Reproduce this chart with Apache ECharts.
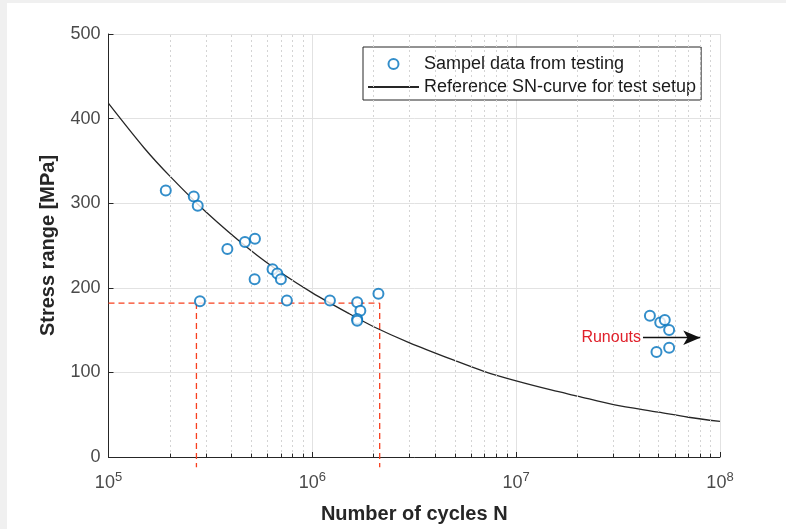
<!DOCTYPE html>
<html>
<head>
<meta charset="utf-8">
<script src="https://cdn.jsdelivr.net/npm/echarts@6/dist/echarts.min.js"></script>
<style>
  html, body { margin: 0; padding: 0; background: #f0f0f0; }
  #paper { position: absolute; left: 7px; top: 3px; width: 779px; height: 526px; background: #ffffff; }
  #chart { position: absolute; left: 0; top: 0; width: 786px; height: 529px; }
</style>
</head>
<body>
<div id="paper"></div>
<div id="chart"></div>
<script>
// Fatigue test results: cycles to failure and stress range
const testCycles = [1.91e5, 2.62e5, 2.74e5, 3.83e5, 4.67e5, 5.23e5, 5.21e5, 6.38e5, 6.73e5, 7.01e5,
                    2.81e5, 7.50e5, 1.22e6, 1.66e6, 1.72e6, 1.66e6, 1.66e6, 2.11e6,
                    4.53e7, 5.09e7, 5.36e7, 5.63e7, 5.63e7, 4.88e7];
const testStress = [315, 308, 297, 246, 254, 258, 210, 222, 217, 210,
                    184, 185, 185, 183, 173, 163, 161, 193,
                    167, 159, 162, 150, 129, 124];

// Reference SN-curve for the test setup
const curveCycles = [1e5, 1.5e5, 2e5, 3e5, 5e5, 7e5, 1e6, 1.5e6, 2e6, 3e6,
                     5e6, 7e6, 1e7, 1.5e7, 2e7, 3e7, 5e7, 7e7, 1e8];
const curveStress = [418, 365, 332, 290, 244, 218, 194, 170, 154, 135,
                     114, 101, 90, 79, 72, 62, 53, 47, 42];

// Scatter band at a stress level (dashed guide lines)
const bandStress = 182;
const bandCyclesLow = 2.7e5;
const bandCyclesHigh = 2.14e6;
const guideBottom = -12;

// Runout arrow
const runoutStress = 141;
const runoutFrom = 4.19e7;
const runoutTo = 8.0e7;

// Axis ranges and ticks
const xMin = 1e5, xMax = 1e8;
const yMin = 0, yMax = 500, yStep = 100;
const decades = [5, 6, 7];
const minorFactors = [2, 3, 4, 5, 6, 7, 8, 9];
const minorCycles = [];
decades.forEach(d => minorFactors.forEach(k => minorCycles.push(k * Math.pow(10, d))));

const FONT = "'Liberation Sans', Arial, Helvetica, sans-serif";
const AXIS_COLOR = '#262626';
const LABEL_COLOR = '#4a4a4a';
const GRID_COLOR = '#e2e2e2';
const BLUE = '#0072BD';
const RED = '#f8401f';

const chart = echarts.init(document.getElementById('chart'), null, { renderer: 'canvas' });

const pairs = (xs, ys) => xs.map((x, i) => [x, ys[i]]);

const option = {
  backgroundColor: 'transparent',
  animation: false,
  textStyle: { fontFamily: FONT },
  grid: { left: 108.5, right: 66, top: 34, bottom: 63, containLabel: false },
  legend: {
    data: [
      { name: 'Sampel data from testing' },
      { name: 'Reference SN-curve for test setup', itemStyle: { opacity: 0 } }
    ],
    orient: 'vertical',
    left: 363,
    top: 47,
    padding: [8, 5, 4, 4],
    itemGap: 5,
    itemWidth: 51,
    itemHeight: 10,
    backgroundColor: '#ffffff',
    borderColor: AXIS_COLOR,
    borderWidth: 1,
    textStyle: { fontFamily: FONT, fontSize: 18, color: '#1a1a1a' },
    selectedMode: false
  },
  xAxis: {
    type: 'log',
    logBase: 10,
    min: xMin,
    max: xMax,
    name: 'Number of cycles N',
    nameLocation: 'middle',
    nameGap: 47,
    nameTextStyle: { fontFamily: FONT, fontSize: 20, fontWeight: 'bold', color: AXIS_COLOR },
    axisLine: { show: true, onZero: false, lineStyle: { color: AXIS_COLOR, width: 1 } },
    axisTick: { show: true, inside: true, length: 5, lineStyle: { color: AXIS_COLOR } },
    axisLabel: {
      margin: 14,
      formatter: v => '{b|10}{sup|' + Math.round(Math.log10(v)) + '}',
      rich: {
        b: { fontFamily: FONT, fontSize: 18, lineHeight: 24, color: LABEL_COLOR },
        sup: { fontFamily: FONT, fontSize: 13, lineHeight: 13, verticalAlign: 'top', color: LABEL_COLOR }
      }
    },
    splitLine: { show: true, lineStyle: { color: GRID_COLOR, width: 1 } }
  },
  yAxis: {
    type: 'value',
    min: yMin,
    max: yMax,
    interval: yStep,
    name: 'Stress range [MPa]',
    nameLocation: 'middle',
    nameGap: 50,
    nameTextStyle: { fontFamily: FONT, fontSize: 20, fontWeight: 'bold', color: AXIS_COLOR },
    axisLine: { show: true, lineStyle: { color: AXIS_COLOR, width: 1 } },
    axisTick: { show: true, inside: true, length: 5, lineStyle: { color: AXIS_COLOR } },
    axisLabel: { margin: 8, fontFamily: FONT, fontSize: 18, color: LABEL_COLOR },
    splitLine: { show: true, lineStyle: { color: GRID_COLOR, width: 1 } }
  },
  series: [
    {
      // minor log grid and minor ticks
      type: 'line',
      data: [],
      silent: true,
      z: 1,
      markLine: {
        silent: true,
        symbol: 'none',
        animation: false,
        label: { show: false },
        lineStyle: { color: '#d4d4d4', type: [2, 3], width: 1 },
        data: minorCycles.map(v => ({ xAxis: v }))
          .concat(minorCycles.map(v => [
            { coord: [v, yMin], lineStyle: { color: AXIS_COLOR, type: 'solid', width: 1 } },
            { coord: [v, yMin + 4] }
          ]))
      }
    },
    {
      name: 'Reference SN-curve for test setup',
      type: 'line',
      data: pairs(curveCycles, curveStress),
      smooth: 0.3,
      showSymbol: false,
      symbol: 'none',
      silent: true,
      z: 3,
      color: AXIS_COLOR,
      lineStyle: { color: AXIS_COLOR, width: 1.3 }
    },
    {
      type: 'line',
      data: [[xMin, bandStress], [bandCyclesHigh, bandStress]],
      symbol: 'none', silent: true, clip: false, z: 2,
      lineStyle: { color: RED, width: 1.3, type: [6, 4] }
    },
    {
      type: 'line',
      data: [[bandCyclesLow, bandStress], [bandCyclesLow, guideBottom]],
      symbol: 'none', silent: true, clip: false, z: 2,
      lineStyle: { color: RED, width: 1.3, type: [6, 4] }
    },
    {
      type: 'line',
      data: [[bandCyclesHigh, bandStress], [bandCyclesHigh, guideBottom]],
      symbol: 'none', silent: true, clip: false, z: 2,
      lineStyle: { color: RED, width: 1.3, type: [6, 4] }
    },
    {
      name: 'Sampel data from testing',
      type: 'scatter',
      data: pairs(testCycles, testStress),
      symbol: 'emptyCircle',
      symbolSize: 10,
      z: 5,
      color: BLUE,
      itemStyle: { color: BLUE, borderColor: BLUE, borderWidth: 1.2 },
      markLine: {
        silent: true,
        animation: false,
        symbol: ['none', 'arrow'],
        symbolSize: [11, 17],
        lineStyle: { color: '#111111', width: 1.3, type: 'solid' },
        label: {
          show: true,
          position: 'start',
          distance: 2,
          formatter: 'Runouts',
          fontFamily: FONT,
          fontSize: 16,
          color: '#e0202a'
        },
        data: [[{ coord: [runoutFrom, runoutStress] }, { coord: [runoutTo, runoutStress] }]]
      }
    }
  ]
};

chart.setOption(option);
</script>
</body>
</html>
